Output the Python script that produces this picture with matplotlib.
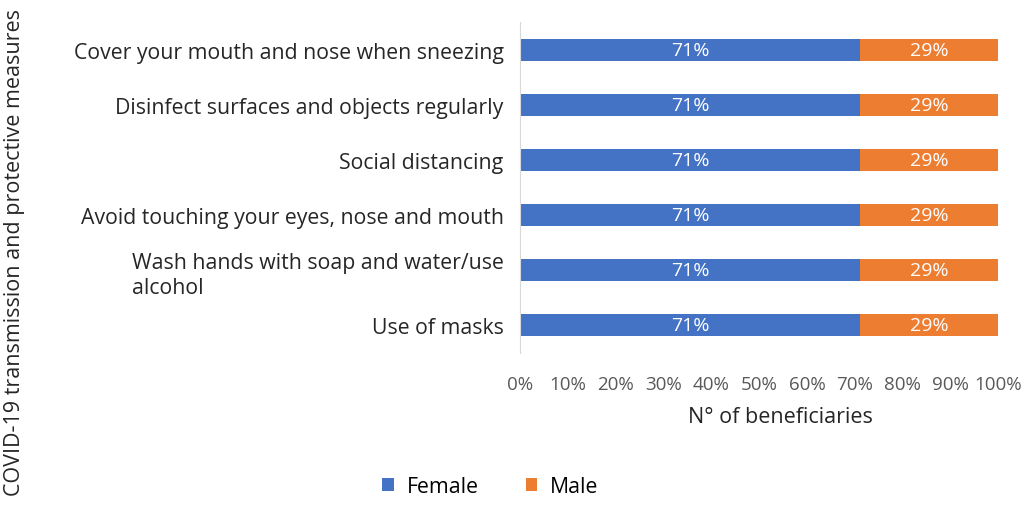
import matplotlib
matplotlib.use("Agg")
import matplotlib.pyplot as plt
from matplotlib.ticker import PercentFormatter, MultipleLocator

plt.rcParams['font.family'] = ['Open Sans', 'DejaVu Sans']

categories = [
    "Cover your mouth and nose when sneezing",
    "Disinfect surfaces and objects regularly",
    "Social distancing",
    "Avoid touching your eyes, nose and mouth",
    "Wash hands with soap and water/use\nalcohol",
    "Use of masks",
]
female = [71, 71, 71, 71, 71, 71]
male = [29, 29, 29, 29, 29, 29]
series_names = ["Female", "Male"]
colors = ["#4472C4", "#ED7D31"]

fig = plt.figure(figsize=(10.26, 5.06), dpi=100)
ax = fig.add_axes([0.507, 0.301, 0.466, 0.653])

y = list(range(len(categories)))
b1 = ax.barh(y, female, height=0.4, color=colors[0], label=series_names[0])
b2 = ax.barh(y, male, left=female, height=0.4, color=colors[1], label=series_names[1])
for bars, vals in ((b1, female), (b2, male)):
    ax.bar_label(bars, labels=[f"{v}%" for v in vals], label_type='center',
                 color='white', fontsize=14)

ax.set_ylim(len(categories) - 0.5, -0.5)
ax.set_xlim(0, 100)
ax.set_yticks(y)
ax.set_yticklabels(categories, fontsize=15.3, color='#262626', multialignment='left',
                   linespacing=1.25)
ax.xaxis.set_major_locator(MultipleLocator(10))
ax.xaxis.set_major_formatter(PercentFormatter(decimals=0))
ax.tick_params(axis='x', length=0, labelsize=13.5, labelcolor='#595959', pad=16)
ax.tick_params(axis='y', length=0, pad=12)
for s in ['top', 'right', 'bottom']:
    ax.spines[s].set_visible(False)
ax.spines['left'].set_color('#D9D9D9')
ax.set_xlabel("N° of beneficiaries", fontsize=15.5, color='#262626', labelpad=8)
ax.xaxis.set_label_coords(0.544, -0.16)

fig.text(0.014, 0.5, "COVID-19 transmission and protective measures", rotation=90,
         va='center', ha='center', fontsize=15.5, color='#262626')

fig.legend(handles=[b1, b2], labels=series_names, loc='center', bbox_to_anchor=(0.478, 0.037),
           ncol=2, frameon=False, fontsize=15.3, handlelength=0.55, handleheight=0.55,
           columnspacing=2.2, handletextpad=0.6)

fig.savefig("out.png", dpi=100)
